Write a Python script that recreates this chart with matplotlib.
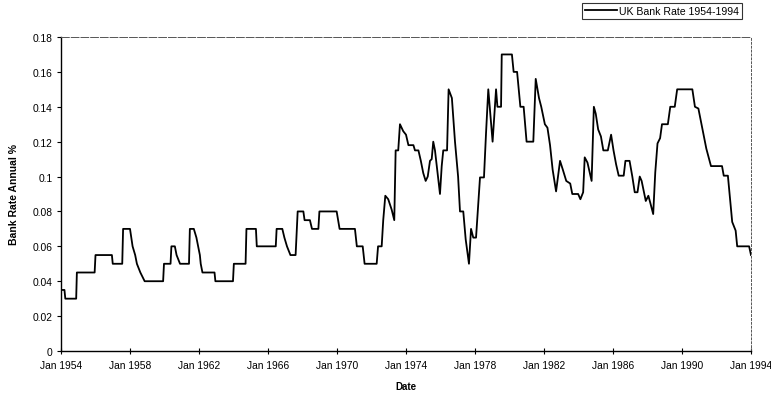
import numpy as np
import matplotlib
matplotlib.use("Agg")
import matplotlib.pyplot as plt
from matplotlib.ticker import FuncFormatter

plt.rcParams['font.family'] = ['Liberation Sans', 'DejaVu Sans']

# decimal year and bank rate
dates = [1954.0, 1954.2, 1954.25, 1954.88, 1954.92, 1955.95, 1956.0, 1956.95,
         1957.0, 1957.55, 1957.6, 1958.0, 1958.15, 1958.3, 1958.4, 1958.6,
         1958.85, 1959.92, 1959.97, 1960.35, 1960.4, 1960.6, 1960.7, 1960.9,
         1961.42, 1961.47, 1961.7, 1961.85, 1961.95, 1962.05, 1962.1, 1962.2,
         1962.9, 1962.95, 1963.97, 1964.02, 1964.7, 1964.75, 1965.3, 1965.35,
         1966.45, 1966.5, 1966.83, 1966.95, 1967.1, 1967.3, 1967.6, 1967.72,
         1968.05, 1968.12, 1968.43, 1968.55, 1968.92, 1968.98, 1969.98, 1970.15,
         1971.04, 1971.15, 1971.49, 1971.6, 1972.3, 1972.38, 1972.59, 1972.68,
         1972.8, 1972.97, 1973.17, 1973.32, 1973.4, 1973.55, 1973.65, 1973.84,
         1974.0, 1974.14, 1974.43, 1974.52, 1974.72, 1974.86, 1975.0, 1975.14,
         1975.26, 1975.39, 1975.49, 1975.58, 1975.68, 1975.81, 1975.97, 1976.07,
         1976.16, 1976.38, 1976.47, 1976.66, 1976.84, 1977.02, 1977.13, 1977.32,
         1977.46, 1977.65, 1977.77, 1977.9, 1978.06, 1978.29, 1978.52, 1978.64,
         1978.77, 1979.02, 1979.22, 1979.3, 1979.51, 1979.55, 1980.14, 1980.24,
         1980.44, 1980.63, 1980.82, 1980.99, 1981.38, 1981.52, 1981.71, 1981.84,
         1982.05, 1982.2, 1982.35, 1982.5, 1982.7, 1982.93, 1983.09, 1983.29,
         1983.52, 1983.64, 1983.98, 1984.11, 1984.27, 1984.36, 1984.52, 1984.76,
         1984.89, 1985.0, 1985.14, 1985.3, 1985.44, 1985.7, 1985.89, 1986.03,
         1986.18, 1986.33, 1986.62, 1986.72, 1986.96, 1987.12, 1987.26, 1987.42,
         1987.55, 1987.66, 1987.9, 1988.05, 1988.16, 1988.33, 1988.45, 1988.58,
         1988.73, 1988.84, 1989.18, 1989.32, 1989.58, 1989.72, 1990.6, 1990.75,
         1990.95, 1991.19, 1991.41, 1991.68, 1992.32, 1992.42, 1992.66, 1992.91,
         1993.11, 1993.2, 1993.89, 1994.0]
rates = [0.035, 0.035, 0.03, 0.03, 0.045, 0.045, 0.055, 0.055,
         0.05, 0.05, 0.07, 0.07, 0.06, 0.055, 0.05, 0.045,
         0.04, 0.04, 0.05, 0.05, 0.06, 0.06, 0.055, 0.05,
         0.05, 0.07, 0.07, 0.065, 0.06, 0.055, 0.05, 0.045,
         0.045, 0.04, 0.04, 0.05, 0.05, 0.07, 0.07, 0.06,
         0.06, 0.07, 0.07, 0.065, 0.06, 0.055, 0.055, 0.08,
         0.08, 0.075, 0.075, 0.07, 0.07, 0.08, 0.08, 0.07,
         0.07, 0.06, 0.06, 0.05, 0.05, 0.06, 0.06, 0.075,
         0.089, 0.087, 0.081, 0.075, 0.115, 0.115, 0.13, 0.126,
         0.124, 0.118, 0.118, 0.115, 0.115, 0.109, 0.102, 0.0975,
         0.1, 0.109, 0.11, 0.12, 0.115, 0.104, 0.09, 0.106,
         0.115, 0.115, 0.15, 0.145, 0.12, 0.1, 0.08, 0.08,
         0.064, 0.05, 0.07, 0.065, 0.065, 0.0995, 0.0995, 0.125,
         0.15, 0.12, 0.15, 0.14, 0.14, 0.17, 0.17, 0.16,
         0.16, 0.14, 0.14, 0.12, 0.12, 0.156, 0.145, 0.14,
         0.13, 0.128, 0.118, 0.104, 0.0915, 0.109, 0.104, 0.0975,
         0.096, 0.09, 0.09, 0.087, 0.091, 0.111, 0.108, 0.0975,
         0.14, 0.136, 0.127, 0.123, 0.115, 0.115, 0.124, 0.115,
         0.107, 0.1005, 0.1005, 0.109, 0.109, 0.1, 0.091, 0.091,
         0.1, 0.0975, 0.086, 0.089, 0.085, 0.0785, 0.1024, 0.119,
         0.122, 0.13, 0.13, 0.14, 0.14, 0.15, 0.15, 0.14,
         0.139, 0.127, 0.116, 0.106, 0.106, 0.1005, 0.1005, 0.074,
         0.069, 0.06, 0.06, 0.055]

tick_years = list(range(1954, 1995, 4))
tick_labels = [f"Jan {y}" for y in tick_years]
y_ticks = [0, 0.02, 0.04, 0.06, 0.08, 0.1, 0.12, 0.14, 0.16, 0.18]

fig = plt.figure(figsize=(7.71, 4.06), dpi=100)
ax = fig.add_axes([61 / 771, 54 / 406, 690 / 771, 314 / 406])

ax.plot(dates, rates, color='black', lw=1.3, label="UK Bank Rate 1954-1994")

ax.set_xlim(1954, 1994)
ax.set_ylim(0, 0.18)
ax.set_xticks(tick_years)
ax.set_xticklabels(tick_labels)
ax.set_yticks(y_ticks)
ax.yaxis.set_major_formatter(FuncFormatter(lambda v, p: f"{v:g}"))
ax.tick_params(axis='x', direction='inout', length=5, width=0.8, labelsize=7.4, pad=4)
ax.tick_params(axis='y', direction='out', length=3, width=0.8, labelsize=7.4, pad=3)

for side in ['left', 'bottom']:
    ax.spines[side].set_linewidth(1.0)
ax.spines['top'].set_linestyle((0, (8, 2)))
ax.spines['top'].set_color('#555555')
ax.spines['top'].set_linewidth(0.7)
ax.spines['right'].set_linestyle((0, (2, 2)))
ax.spines['right'].set_color('#555555')
ax.spines['right'].set_linewidth(0.7)

ax.set_xlabel("Date", fontsize=7, fontweight='bold', labelpad=8)
ax.set_ylabel("Bank Rate Annual %", fontsize=7.5, fontweight='bold', labelpad=10)

leg = fig.legend(loc='upper right', bbox_to_anchor=(742 / 771, 1 - 4 / 406),
                 fontsize=7.6, frameon=True, fancybox=False, edgecolor='black',
                 handlelength=3.0, handletextpad=0.2, borderpad=0.3,
                 borderaxespad=0)
leg.get_frame().set_linewidth(0.8)

fig.savefig("out.png", dpi=100)
